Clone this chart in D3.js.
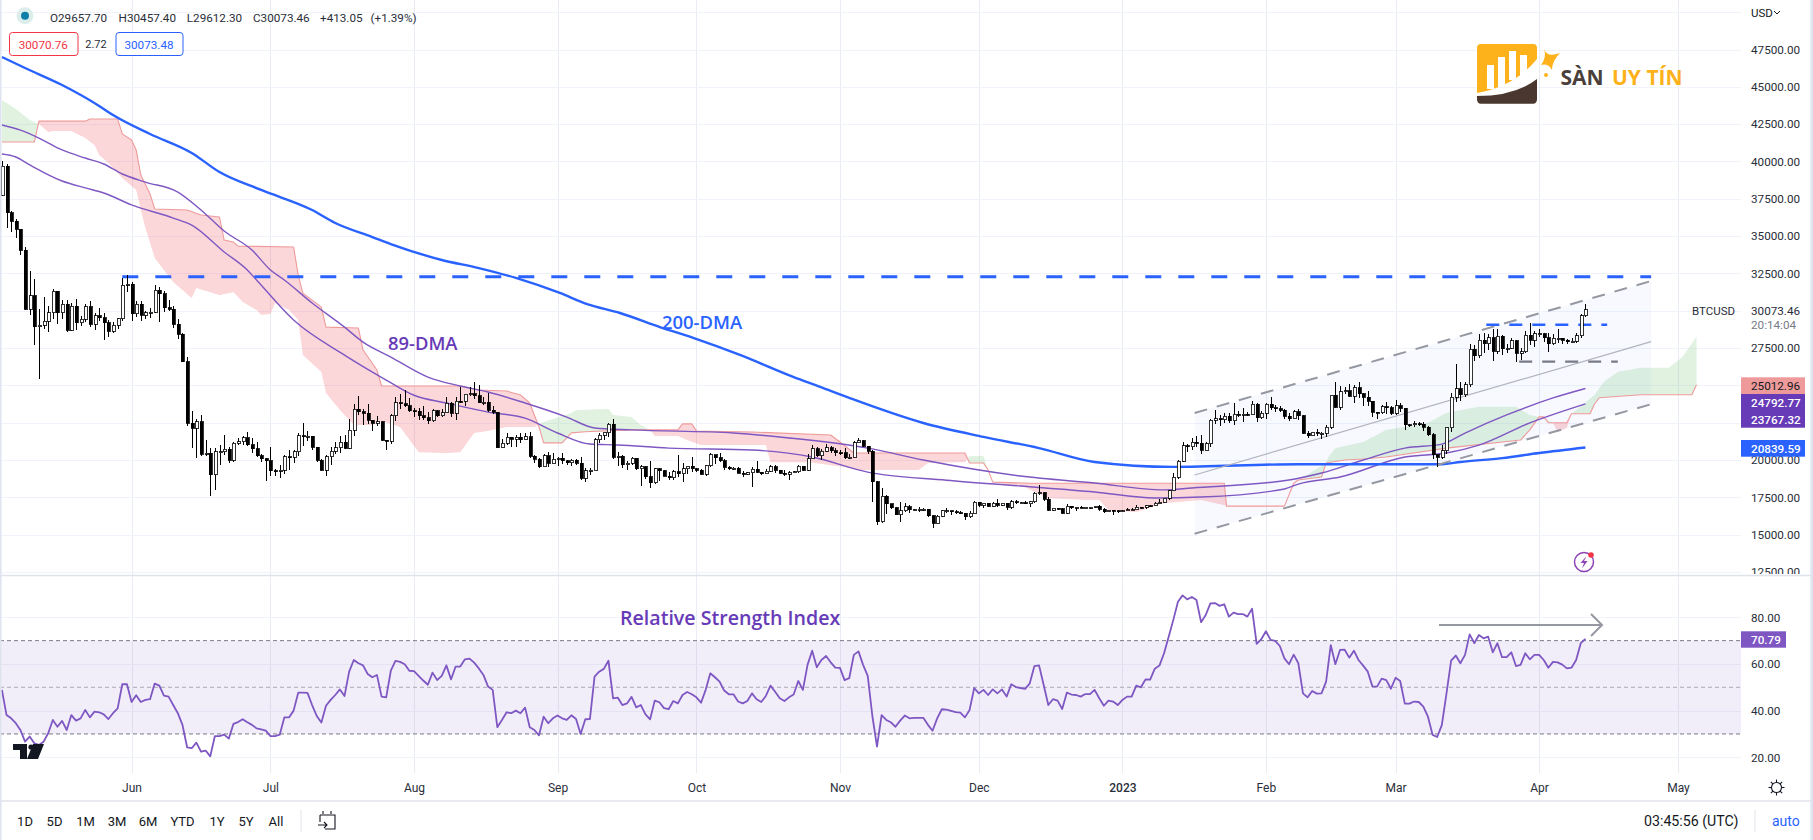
<!DOCTYPE html>
<html>
<head>
<meta charset="utf-8">
<script src="https://cdn.jsdelivr.net/npm/d3@7"></script>
<style>
  html, body { margin: 0; padding: 0; background: #fff; overflow: hidden; }
  svg { display: block; font-family: Roboto, "Liberation Sans", sans-serif; }
</style>
</head>
<body>
<div id="chart"></div>
<script>
// daily candles, BTCUSD, first one is 4 May 2022 and the last one 11 Apr 2023
const opens = [
37730,39690,36550,36010,35470,34040,30090,31010,28940,29030,
29280,29860,31300,29850,30420,28700,30310,29190,29430,30280,
29100,29650,29540,29190,28630,29020,29450,31720,31790,29800,
30450,29700,29860,29910,31370,31130,30200,30110,29080,28420,
26570,22480,22130,22570,20380,20470,19020,20560,20570,20720,
19970,21110,21230,21490,21040,20740,20280,20100,19960,19270,
19240,19300,20220,20190,20550,21640,21590,21590,20860,19970,
19330,20210,20580,20830,21190,20780,22000,23390,23220,23150,
22680,22450,22580,21310,21250,22950,23850,23770,23640,23300,
23270,22980,22820,22620,23310,22960,23170,23810,23150,23950,
23940,24400,24440,24300,23850,23870,23340,23200,20830,21140,
21520,21400,21530,21370,21560,20240,20040,19550,20280,19800,
20050,20130,19950,19830,20000,19800,18790,19290,19320,21360,
21650,21830,22400,20170,20240,19700,19800,20110,19420,19540,
18890,18490,19400,19290,18920,18800,19220,19080,19410,19590,
19420,19310,19060,19620,20340,20160,19960,19530,19420,19440,
19130,19060,19150,19370,19180,19070,19260,19550,19330,19120,
19040,19160,19200,19570,19330,20080,20770,20290,20600,20820,
20630,20490,20480,20150,20200,21150,21300,20920,20600,18540,
15880,17590,17070,16810,16330,16610,16880,16660,16680,16690,
16700,16280,15780,16230,16600,16600,16520,16460,16430,16210,
16440,17170,16970,17090,16890,17110,16970,17090,16840,17220,
17130,17130,17080,17210,17780,17810,17360,16630,16780,16740,
16440,16900,16820,16830,16790,16830,16840,16920,16700,16550,
16630,16600,16530,16610,16670,16670,16850,16830,16950,16940,
17120,17180,17440,17940,18850,19930,20960,20880,21190,21140,
20670,21080,22680,22780,22710,22920,22620,23060,23010,23080,
23030,23750,22830,23130,23730,23490,23430,23330,22930,22760,
23240,22960,21800,21630,21860,21780,21780,22200,24330,23530,
24570,24630,24280,24840,24450,24190,23940,23190,23160,23560,
23490,23140,23650,23470,22360,22350,22430,22410,22200,21700,
20370,20190,20630,22160,24200,24770,24370,25050,27420,26970,
28040,27800,28180,27300,28300,27470,27490,28000,27140,27270,
28350,28030,28470,28470,28200,27800,28170,28170,28030,27920,
27950,28330,29657.7];
const highs = [
40030,39850,36650,36130,35500,34240,32640,32150,30150,30950,
30300,31470,31300,30750,30700,30540,30770,29620,30480,30650,
29830,30200,29830,29380,29250,29530,32200,32400,31950,30650,
30680,29950,30180,31750,31560,31320,30700,30330,29430,28520,
26880,23300,22750,22990,21350,20780,20780,21000,21700,20880,
21200,21500,21580,21860,21500,21180,20400,20150,20870,19430,
19640,20360,20680,20660,21830,22500,21950,21600,20860,20040,
20360,20880,21200,21590,21690,22780,23780,24280,23430,23750,
22680,22980,22630,21350,23100,24200,24440,24670,24180,23500,
23470,23650,23230,23450,23350,23390,24250,23920,24230,24900,
24450,24890,25200,25050,24250,24470,23600,23200,21380,21790,
21520,21680,21820,21820,21880,20350,20140,20400,20570,20480,
20200,20440,20000,20040,20050,20170,19460,19450,21500,21780,
21840,22480,22780,20520,20320,19950,20180,20110,19680,19620,
19950,19490,19490,19310,19180,19300,20350,19770,19630,20170,
19470,19390,19680,20450,20360,20440,20050,19600,19520,19510,
19270,19210,19510,19930,19210,19420,19670,19690,19350,19340,
19250,19240,19690,19600,20400,21020,20860,20740,21080,20930,
20830,20690,20800,20390,21300,21470,21370,20950,20660,18590,
18150,17650,17080,16880,17180,17120,16990,16750,16850,16800,
16750,16290,16310,16680,16770,16610,16680,16600,16480,16600,
17250,17200,17100,17150,17200,17410,17120,17140,17300,17350,
17220,17270,17240,17850,18360,17830,17520,16800,16820,16800,
17040,16900,16860,16890,16860,16860,16930,16960,16780,16650,
16620,16640,16620,16770,16760,16990,16880,16990,16970,17170,
17400,17480,18000,19100,19980,21230,21050,21450,21620,21650,
21180,22730,23320,23050,23170,23150,23800,23290,23490,23190,
23940,23790,23300,23800,24240,23700,23590,23430,23140,23340,
23420,23000,21950,21900,22080,21880,22320,24370,25230,24980,
24870,25120,25050,25260,24460,24600,23900,23200,23680,23880,
23600,24000,23800,23480,22410,22600,22560,22570,22260,21800,
20360,21000,22170,24500,26400,25240,25200,27750,27730,28440,
28500,28470,28800,28780,28400,27800,28200,28020,27500,28630,
29170,28640,28800,28500,28480,28450,28750,28190,28100,28180,
28530,29770,30457.4];
const lows = [
37670,35560,35290,34850,33720,30030,29730,27700,25400,28760,
28600,29480,29100,29430,28600,28640,28730,28950,29240,28900,
28700,29300,28020,28230,28480,28800,29300,31230,29320,29600,
29300,29450,29500,29850,29230,29900,29950,28850,28100,26560,
22300,20820,20120,20250,20250,17600,18000,19650,20350,19800,
19900,21000,21000,20950,20500,20200,19860,18620,18960,18950,
18780,19050,19300,19800,20250,20950,21300,20650,19880,19250,
18900,19680,20380,20500,20750,20750,21600,23000,22350,22400,
21950,22280,21250,20700,21050,22600,23400,23550,23200,22850,
22700,22700,22430,22580,22870,22850,23150,22900,22700,23850,
23600,24320,24100,23800,23680,23200,23100,20800,20850,21000,
20900,20900,21150,21320,20150,19800,19500,19550,19550,19800,
19620,19750,19650,19600,19650,18680,18540,19000,19300,21150,
21350,21550,20050,19620,19500,19320,19700,19350,18250,18700,
18150,18400,18570,18900,18630,18680,18850,18500,19050,19200,
19180,19000,18950,19510,19750,19900,19350,19320,19320,19100,
18860,19020,18200,19100,19030,19050,19170,19100,19060,18930,
18650,19110,19100,19240,19250,20050,20210,20000,20570,20500,
20250,20340,20060,20050,20170,21150,20880,20400,17200,15620,
15750,16400,16750,16300,15850,16550,16420,16560,16550,16600,
16200,15480,15750,16170,16480,16350,16400,16400,15990,16130,
16430,16860,16790,16860,16880,16880,16910,16680,16730,17080,
17090,17070,16870,17090,17650,17280,16580,16590,16670,16400,
16400,16720,16600,16760,16790,16750,16800,16590,16470,16490,
16350,16480,16500,16560,16620,16650,16750,16690,16910,16910,
17100,17150,17320,17900,18720,19870,20550,20660,20860,20400,
20660,20870,22400,22300,22490,22450,22330,22860,22550,22950,
23000,22550,22720,22770,23380,23230,23250,22780,22630,22730,
22660,21720,21480,21620,21620,21380,21550,22050,23480,23350,
24450,24230,23850,24150,23600,23600,22900,22750,23070,23100,
23050,23020,23230,22020,22200,22200,22250,21950,21600,20100,
19550,20050,20400,21900,23900,23950,24200,24900,26650,26850,
27200,27350,26650,27120,27030,27200,27420,26550,26700,27150,
27700,27550,28250,27900,27260,27680,27850,27750,27790,27880,
27810,28170,29612.3];
const closes = [
39690,36550,36010,35470,34040,30090,31010,28940,29030,29280,
29860,31300,29850,30420,28700,30310,29190,29430,30280,29100,
29650,29540,29190,28630,29020,29450,31720,31790,29800,30450,
29700,29860,29910,31370,31130,30200,30110,29080,28420,26570,
22480,22130,22570,20380,20470,19020,20560,20570,20720,19970,
21110,21230,21490,21040,20740,20280,20100,19960,19270,19240,
19300,20220,20190,20550,21640,21590,21590,20860,19970,19330,
20210,20580,20830,21190,20780,22000,23390,23220,23150,22680,
22450,22580,21310,21250,22950,23850,23770,23640,23300,23270,
22980,22820,22620,23310,22960,23170,23810,23150,23950,23940,
24400,24440,24300,23850,23870,23340,23200,20830,21140,21520,
21400,21530,21370,21560,20240,20040,19550,20280,19800,20050,
20130,19950,19830,20000,19800,18790,19290,19320,21360,21650,
21830,22400,20170,20240,19700,19800,20110,19420,19540,18890,
18490,19400,19290,18920,18800,19220,19080,19410,19590,19420,
19310,19060,19620,20340,20160,19960,19530,19420,19440,19130,
19060,19150,19370,19180,19070,19260,19550,19330,19120,19040,
19160,19200,19570,19330,20080,20770,20290,20600,20820,20630,
20490,20480,20150,20200,21150,21300,20920,20600,18540,15880,
17590,17070,16810,16330,16610,16880,16660,16680,16690,16700,
16280,15780,16230,16600,16600,16520,16460,16430,16210,16440,
17170,16970,17090,16890,17110,16970,17090,16840,17220,17130,
17130,17080,17210,17780,17810,17360,16630,16780,16740,16440,
16900,16820,16830,16790,16830,16840,16920,16700,16550,16630,
16600,16530,16610,16670,16670,16850,16830,16950,16940,17120,
17180,17440,17940,18850,19930,20960,20880,21190,21140,20670,
21080,22680,22780,22710,22920,22620,23060,23010,23080,23030,
23750,22830,23130,23730,23490,23430,23330,22930,22760,23240,
22960,21800,21630,21860,21780,21780,22200,24330,23530,24570,
24630,24280,24840,24450,24190,23940,23190,23160,23560,23490,
23140,23650,23470,22360,22350,22430,22410,22200,21700,20370,
20190,20630,22160,24200,24770,24370,25050,27420,26970,28040,
27800,28180,27300,28300,27470,27490,28000,27140,27270,28350,
28030,28470,28470,28200,27800,28170,28170,28030,27920,27950,
28330,29657.7,30073.46];

// 200-DMA, sampled, day numbers count from the first candle
const dma200Days = [0,5,13,21,24,32,41,47,56,67,72,80,84,95,103,111,120.5,126.4,133.5,142.1,149.3,159.4,170.9,176.7,183,199,212,224,236,253,280,302,311,315,324,332,342];
const dma200 = [47000,46260,45120,43720,43110,41840,40570,39290,38090,36750,35880,34940,34470,33400,32860,32200,31190,30450,29850,28910,28180,27040,25570,24900,24160,22480,21550,20800,19870,19540,19720,19720,19720,19870,20130,20470,20840];

// 89-DMA band
const dmaHighDays = [0,4,8,13,18,22,26,31,38,43,48,54,58,61,67,74,78,84,92,99,105,113,122,128,136,158,170,187,199,220,236,251,257,278,285,294,303,311,316,325,335,342];
const dmaHigh = [42440,42100,41570,40770,40230,39830,39160,38620,37950,36750,35340,34070,32730,32060,30520,28900,27900,26900,25560,24960,24560,23820,22880,22150,22020,21810,21480,20800,20000,18930,18460,18000,18130,18660,19130,20000,20800,21070,21810,23020,24160,24793];
const dmaLowDays = [0,3,6,13,18,22,28,37,41,48,53,55,63,74,83,89,96,105,113,120,127,133,144,162,175,187,204,220,236,249,259,277,280,289,303,312,319,330,342];
const dmaLow = [40500,40300,39770,38690,38230,37890,37090,36210,35740,33940,32730,32060,29380,27030,25360,24340,23820,23210,22810,21810,21070,21010,20800,20670,20200,19190,18650,18260,17860,17460,17520,18060,18390,18860,20200,20470,21000,22490,23767];

// ichimoku cloud edges
const spanADays = [0,3,6,8,10,11,15,18,20,21,23,26,29,30,31,33,35,37,41,42,47,50,52,55,56,58,59,62,64,65,69,70,73,76,80,82,86,90,96,99,102,105,109,115,117,123,124,131,132,136,138,140,141,146,148,151,165,166,174,182,185,198,200,208,209,212,213,214,221,226,234,237,239,245,251,259,264,264.5,277,279,286,286.5,288,294,299,308,312,319,327,330,332,335,336,338,339,344,346,349,354,360,363,366];
const spanA = [44120,43520,42780,42510,41970,42040,42040,41570,41100,40430,39900,38890,38090,36750,35540,33530,32730,31920,30850,31520,31050,31250,30590,30050,29720,29790,30520,30050,29380,27030,25900,24490,23350,22340,22340,22610,22210,20530,20460,20530,21810,21950,22210,22210,22550,23150,23350,23420,23020,22880,22340,22020,21610,21610,21340,21000,21000,19860,19860,19530,19330,19330,19800,19860,20270,20270,19330,18520,18180,17440,17320,17320,16640,16510,17110,17320,16980,16910,16910,18450,19800,20200,20800,21210,22020,22490,23170,23570,23570,23020,22890,22490,21880,22150,23100,24370,25240,25910,26180,26180,26920,28260];
const spanBDays = [0,7,8,18,19,25,26,28,29,30,32,33,40,43,47,48,50,51,63,64,65,69,70,77,78,81,82,99,103,109,112,114,115,116,117,121,123,126,136,146,147,149,150,162,179,181,184,208,209,212,213,214,222,264,264.5,277,279,280,285,286,290,294,299,312,328,330,332,333,334,338,339,343,344,345,354,365,366];
const spanB = [41300,41300,42700,42700,42840,42840,41850,41440,40770,39090,37820,36820,36750,36410,36280,34740,34600,34330,34270,32390,31180,30240,28900,28840,27370,26030,24960,24960,24690,24620,24360,23820,23020,22220,21150,21150,21820,21890,22020,22020,22420,22420,21950,21880,21680,21210,20470,20470,19800,19800,19330,18520,18450,18450,16910,16910,18450,18660,18860,19800,20000,20070,20200,20800,21340,22020,22890,22890,22500,22500,23100,23100,23770,24170,24370,24370,25040];

// RSI, one value per candle
const rsi = [
48.9,38.1,36.7,34.6,31.7,26.7,28.9,26,25.3,26.7,
30.3,36,33.1,35.6,31.7,38.1,35.7,36.7,40.3,37.1,
39.6,39.3,38.4,36.4,38.9,41,51.3,51.4,43.7,46.6,
43.7,44.6,44.9,51.6,50.7,46.4,46,42.4,38.9,33.9,
24.3,23.9,26.3,22.4,22.9,20.4,29.1,29.1,29.7,28,
34.3,35.1,36.3,35,33.9,32.4,32,31.4,29.1,29.1,
29.7,37.1,37.1,40,47.7,47.7,47.6,42.4,37.7,34.9,
42.1,44.6,46.7,49.1,46.3,56.7,61.7,60.3,59.4,55.7,
54.3,55.3,46,45.7,57.1,61.3,60.9,59.9,57.1,56.9,
54.9,52.9,51.1,56.3,53.1,54.9,59.4,53.4,58.9,58.9,
62,62.3,60.6,58.1,55.3,50.3,48.9,32.9,36,39.3,
38.9,40,38.9,41.3,32.9,31.7,29.4,37.4,34.6,36.7,
37.9,36.7,36,38,36.4,30,36.3,36.4,54.6,56.7,
57.9,61.4,45.3,45.6,42.4,43.1,45.9,41.4,42.4,38.4,
36.3,44.3,43.6,41.1,40.6,44.1,43.1,46.7,48,47,
45.7,43.4,48.9,56,54.3,52.4,48.6,47,47,43.9,
43.1,44.1,47.4,44.9,43.7,46.3,50.7,48.1,45.3,44.1,
45.7,46.9,52.7,48.9,59.6,65.7,58.6,61.7,63.4,60.7,
58.4,58.3,53.1,53.9,63.9,65.4,59.6,54.9,37.7,24.6,
38.1,36,35,33.1,35.7,37.9,36.7,36.9,36.9,36.9,
33.9,31.4,36.7,40.6,40.4,39.9,39.4,39.1,37.1,40.3,
49.7,47.4,48.9,46.7,49.1,47.4,49.1,46,51.3,50.1,
49.7,49.3,51.7,59.1,59.4,51,42.4,44.9,44.3,40.7,
47.7,46.9,46.7,46,47.1,47.1,48.9,45.3,42.1,44.3,
43.9,42.4,44.6,46,46,50.7,50,53.4,53.3,58,
59.3,64.6,71.7,78.9,86.7,89.4,87.7,88.7,87.4,77.9,
81,86,86.1,84.9,85.6,80.3,82,81.4,81.4,80.3,
83.7,68.6,70.6,74,70.3,69.9,67.7,62.4,59.9,64,
60.3,47.4,45.7,48.4,47.3,47.4,52.4,68.1,59.9,66,
66.1,62.7,65.7,61.7,59.3,56.7,50.4,50.3,53.7,53.1,
49.4,54.1,52.7,43,43,43.9,43.7,41.7,37.4,29.6,
28.7,33.9,47.4,61.4,63.6,60.3,63.9,72.7,68.9,72.4,
71,71.7,65,68.9,62.9,62.9,65,59.1,59.6,64.6,
62,63.9,63.9,61.7,58.4,60.9,60.7,59.7,58.1,58.4,
61.7,68.9,70.79];

const monthDays = [28,58,89,120,150,181,211,242,273,301,332,362];
const monthLabels = ['Jun','Jul','Aug','Sep','Oct','Nov','Dec','2023','Feb','Mar','Apr','May'];
const priceTicks = [12500,15000,17500,20000,22500,25000,27500,32500,35000,37500,40000,42500,45000,47500];
const priceGrid = [12500,15000,17500,20000,22500,25000,27500,30000,32500,35000,37500,40000,42500,45000,47500,50000];
const rsiTicks = [20,40,60,80];
const rangeButtons = ['1D','5D','1M','3M','6M','YTD','1Y','5Y','All'];

// drawings on the chart, [day, price]
const channelUpper = [[257.6,23152],[356.2,31990]];
const channelMiddle = [[257.6,19000],[356.2,27930]];
const channelLower = [[257.6,15065],[356.2,23740]];
const resistanceLine = [[26,32280],[356.2,32280]];
const rangeTop = [[320.6,29066],[346.7,29066]];
const rangeBottom = [[327.7,26590],[349,26590]];

const width = 1813, height = 840;
const axisX = 1741, paneBottom = 575, plotBottom = 772.7, timeBottom = 801;

const svg = d3.select('#chart').append('svg').attr('width', width).attr('height', height);

const x = d3.scaleLinear().domain([0, 362]).range([1.9, 1678]);
const y = d3.scaleLinear().domain([12500, 47500]).range([572, 49.5]);
const yRsi = d3.scaleLinear().domain([20, 80]).range([757.3, 617.3]);

svg.append('rect').attr('width', width).attr('height', height).attr('fill', '#fff');

svg.append('defs').append('clipPath').attr('id', 'pricePane')
   .append('rect').attr('width', axisX).attr('height', paneBottom);

// grid
const grid = svg.append('g').attr('stroke', '#f0f3fa').attr('stroke-width', 1).attr('shape-rendering', 'crispEdges');
grid.selectAll('.v').data(monthDays).enter().append('line')
    .attr('x1', d => Math.round(x(d)) + 0.5).attr('x2', d => Math.round(x(d)) + 0.5)
    .attr('y1', 0).attr('y2', plotBottom).attr('stroke', '#e9ecf3');
grid.selectAll('.h').data(priceGrid).enter().append('line')
    .attr('x1', 0).attr('x2', axisX)
    .attr('y1', d => Math.round(y(d)) + 0.5).attr('y2', d => Math.round(y(d)) + 0.5);
grid.selectAll('.r').data(rsiTicks).enter().append('line')
    .attr('x1', 0).attr('x2', axisX)
    .attr('y1', d => Math.round(yRsi(d)) + 0.5).attr('y2', d => Math.round(yRsi(d)) + 0.5);

const pane = svg.append('g').attr('clip-path', 'url(#pricePane)');

// regression channel fill
pane.append('path')
    .attr('d', d3.line().x(d => x(d[0])).y(d => y(d[1]))([channelUpper[0], channelUpper[1], channelLower[1], channelLower[0]]) + 'Z')
    .attr('fill', '#2962ff').attr('fill-opacity', 0.04);

// cloud
const spanAAt = d3.scaleLinear().domain(spanADays).range(spanA);
const spanBAt = d3.scaleLinear().domain(spanBDays).range(spanB);
const cloudGrid = d3.range(0, 366.05, 0.1);
function cloud(defined) {
  return d3.area().x(d => x(d)).y0(d => y(spanAAt(d))).y1(d => y(spanBAt(d))).defined(defined)(cloudGrid);
}
pane.append('path').attr('d', cloud(d => spanAAt(d) >= spanBAt(d))).attr('fill', '#4caf50').attr('fill-opacity', 0.17);
pane.append('path').attr('d', cloud(d => spanAAt(d) <= spanBAt(d))).attr('fill', '#f23645').attr('fill-opacity', 0.2);

function seriesLine(days, values, color, w, curve) {
  pane.append('path')
      .attr('d', d3.line().x((d, i) => x(days[i])).y(d => y(d)).curve(curve || d3.curveLinear)(values))
      .attr('fill', 'none').attr('stroke', color).attr('stroke-width', w)
      .attr('stroke-linejoin', 'round');
}
seriesLine(spanBDays, spanB, '#ef9a9a', 1.1);
seriesLine(dmaHighDays, dmaHigh, '#7e57c2', 1.4, d3.curveMonotoneX);
seriesLine(dmaLowDays, dmaLow, '#7e57c2', 1.4, d3.curveMonotoneX);
seriesLine(dma200Days, dma200, '#2962ff', 2.4, d3.curveMonotoneX);

function drawing(pts, color, w, dash) {
  const sel = pane.append('line')
      .attr('x1', x(pts[0][0])).attr('y1', y(pts[0][1]))
      .attr('x2', x(pts[1][0])).attr('y2', y(pts[1][1]))
      .attr('stroke', color).attr('stroke-width', w);
  if (dash) sel.attr('stroke-dasharray', dash);
}
drawing(channelUpper, '#9598a1', 2, '13,10');
drawing(channelLower, '#9598a1', 2, '13,10');
drawing(channelMiddle, '#b2b5be', 1.2);
drawing(resistanceLine, '#2962ff', 3, '16,17');
drawing(rangeTop, '#2962ff', 2.4, '13,10');
drawing(rangeBottom, '#787b86', 2.4, '13,10');

// candles
const candles = pane.append('g').attr('shape-rendering', 'crispEdges');
candles.selectAll('.wick').data(closes).enter().append('line')
    .attr('x1', (d, i) => Math.round(x(i)) + 0.5).attr('x2', (d, i) => Math.round(x(i)) + 0.5)
    .attr('y1', (d, i) => y(highs[i])).attr('y2', (d, i) => y(lows[i]))
    .attr('stroke', '#000');
candles.selectAll('.body').data(closes).enter().append('rect')
    .attr('x', (d, i) => Math.round(x(i)) - 1)
    .attr('y', (d, i) => y(Math.max(opens[i], d)))
    .attr('width', 3)
    .attr('height', (d, i) => Math.max(1, Math.abs(y(opens[i]) - y(d))))
    .attr('fill', (d, i) => d >= opens[i] ? '#fff' : '#000')
    .attr('stroke', '#000').attr('stroke-width', 0.8);

// chart captions
function label(txt, px, py, color, size, weight, anchor) {
  return svg.append('text').attr('x', px).attr('y', py).attr('dy', '.35em')
      .attr('fill', color).attr('font-size', size).attr('font-weight', weight || 400)
      .attr('text-anchor', anchor || 'start').text(txt);
}
label('200-DMA', 662, 323, '#2962ff', 18.4, 600).attr('font-family', '"Open Sans"');
label('89-DMA', 388, 344, '#673ab7', 18.4, 600).attr('font-family', '"Open Sans"');
label('Relative Strength Index', 620, 618, '#673ab7', 19.6, 600).attr('font-family', '"Open Sans"');

// RSI pane
svg.append('rect').attr('x', 0).attr('width', axisX)
   .attr('y', yRsi(70)).attr('height', yRsi(30) - yRsi(70))
   .attr('fill', '#7e57c2').attr('fill-opacity', 0.1);
[[70, '#787b86'], [50, '#a8abb3'], [30, '#787b86']].forEach(b => {
  svg.append('line').attr('x1', 0).attr('x2', axisX).attr('y1', yRsi(b[0])).attr('y2', yRsi(b[0]))
     .attr('stroke', b[1]).attr('stroke-width', 1).attr('stroke-dasharray', '4,3');
});
svg.append('path')
   .attr('d', d3.line().x((d, i) => x(i)).y(d => yRsi(d))(rsi))
   .attr('fill', 'none').attr('stroke', '#7e57c2').attr('stroke-width', 1.8).attr('stroke-linejoin', 'round');
svg.append('path').attr('d', 'M1439,625H1601M1591,614L1602,625L1591,636')
   .attr('fill', 'none').attr('stroke', '#9598a1').attr('stroke-width', 2);

// TradingView mark
svg.append('path').attr('d', 'M13,744H27V759H20V750H13ZM33,744H44L38,759H27Z').attr('fill', '#131722');
svg.append('circle').attr('cx', 31).attr('cy', 747).attr('r', 2.6).attr('fill', '#131722');

const priceAxis = svg.append('g').attr('transform', `translate(${axisX},0)`)
    .call(d3.axisRight(y).tickValues(priceTicks).tickFormat(d3.format('.2f')).tickSize(0).tickPadding(10));
priceAxis.select('.domain').remove();
priceAxis.selectAll('text').attr('font-family', 'Roboto').attr('font-size', 11.7).attr('fill', '#2a2e39');

svg.append('rect').attr('x', axisX).attr('y', paneBottom - 1).attr('width', width - axisX).attr('height', 6).attr('fill', '#fff');
svg.append('line').attr('x1', 0).attr('x2', width).attr('y1', paneBottom + 0.5).attr('y2', paneBottom + 0.5)
   .attr('stroke', '#e0e3eb').attr('stroke-width', 1.5);

const rsiAxis = svg.append('g').attr('transform', `translate(${axisX},0)`)
    .call(d3.axisRight(yRsi).tickValues(rsiTicks).tickFormat(d3.format('.2f')).tickSize(0).tickPadding(10));
rsiAxis.select('.domain').remove();
rsiAxis.selectAll('text').attr('font-family', 'Roboto').attr('font-size', 11.7).attr('fill', '#2a2e39');

const timeAxis = svg.append('g').attr('transform', `translate(0,${plotBottom})`)
    .call(d3.axisBottom(x).tickValues(monthDays).tickFormat((d, i) => monthLabels[i]).tickSize(0).tickPadding(11));
timeAxis.select('.domain').remove();
timeAxis.selectAll('text').attr('font-family', 'Roboto').attr('font-size', 12).attr('fill', '#2a2e39')
    .attr('font-weight', d => d === 242 ? 500 : 400);

svg.append('line').attr('x1', 0).attr('x2', width).attr('y1', timeBottom).attr('y2', timeBottom)
   .attr('stroke', '#e0e3eb').attr('stroke-width', 1.5);

// price tags
function tag(top, bottom, fill, right) {
  svg.append('rect').attr('x', axisX).attr('y', top).attr('width', right - axisX).attr('height', bottom - top).attr('fill', fill);
}
tag(377.3, 394, '#ef9a9a', 1805);
tag(394, 427.7, '#673ab7', 1805);
tag(440, 456.7, '#2962ff', 1805);
label('25012.96', 1751, 385.5, '#131722', 11.7);
label('24792.77', 1751, 402.5, '#fff', 11.7, 500);
label('23767.32', 1751, 419.5, '#fff', 11.7, 500);
label('20839.59', 1751, 448.5, '#fff', 11.7, 500);
label('BTCUSD', 1692, 311, '#2a2e39', 11.5);
label('30073.46', 1751, 311, '#2a2e39', 11.7);
label('20:14:04', 1751, 325, '#787b86', 11.7);
label('USD', 1751, 12.5, '#131722', 11.5);
svg.append('path').attr('d', 'M1774,11L1777,14L1780,11').attr('fill', 'none').attr('stroke', '#131722').attr('stroke-width', 1);
tag(631.3, 647.7, '#7e57c2', 1786);
label('70.79', 1751, 640, '#fff', 11.7, 500);

// header
svg.append('circle').attr('cx', 25).attr('cy', 15.7).attr('r', 8.5).attr('fill', '#dceeec');
svg.append('circle').attr('cx', 25).attr('cy', 15.7).attr('r', 4).attr('fill', '#0f7ea8');
[['O29657.70', 50], ['H30457.40', 118.6], ['L29612.30', 186.8], ['C30073.46', 253], ['+413.05', 320], ['(+1.39%)', 370.5]]
  .forEach(t => label(t[0], t[1], 17.7, '#2a2e39', 11.7));
function priceBox(left, right, color, txt) {
  svg.append('rect').attr('x', left + 0.5).attr('y', 32.5).attr('width', right - left).attr('height', 23).attr('rx', 3)
     .attr('fill', '#fff').attr('stroke', color);
  label(txt, (left + right) / 2, 44.5, color, 11.7, 400, 'middle');
}
priceBox(9, 77.5, '#f23645', '30070.76');
label('2.72', 96, 44.5, '#2a2e39', 11, 400, 'middle');
priceBox(115.5, 182.5, '#2962ff', '30073.48');

// toolbar
const buttonX = [25, 54.5, 85.5, 117, 148, 182.5, 217, 246, 276];
rangeButtons.forEach((b, i) => label(b, buttonX[i], 821, '#131722', 13, 400, 'middle'));
svg.append('line').attr('x1', 301).attr('x2', 301).attr('y1', 810).attr('y2', 832).attr('stroke', '#e0e3eb');
svg.append('path').attr('d', 'M320,815H335V829H325M320,815V822M323,811V814M331,811V814M318,825H327M324,822L327,825L324,828')
   .attr('fill', 'none').attr('stroke', '#131722').attr('stroke-width', 1.1);
label('03:45:56 (UTC)', 1644, 821, '#131722', 14.2);
svg.append('line').attr('x1', 1755).attr('x2', 1755).attr('y1', 810).attr('y2', 832).attr('stroke', '#e0e3eb');
label('auto', 1772, 821, '#2962ff', 14);

// settings gear
const gear = svg.append('g').attr('transform', 'translate(1776.5,787.5)').attr('fill', 'none').attr('stroke', '#131722').attr('stroke-width', 1.1);
gear.append('circle').attr('r', 5);
d3.range(0, 360, 45).forEach(a => {
  gear.append('line').attr('y1', -5).attr('y2', -8).attr('transform', `rotate(${a})`);
});

// snapshot bolt icon
const bolt = svg.append('g').attr('transform', 'translate(1584,562)');
bolt.append('circle').attr('r', 9.5).attr('fill', '#fff').attr('stroke', '#8e44b5').attr('stroke-width', 1.5);
bolt.append('path').attr('d', 'M2.5,-6L-3.5,1H0L-2,6.5L3.5,-1H0Z').attr('fill', '#8e44b5');
bolt.append('circle').attr('cx', 7).attr('cy', -7).attr('r', 2.8).attr('fill', '#f23645');

// watermark logo
const logo = svg.append('g');
logo.append('path').attr('d', 'M1537,79V99Q1537,103.7 1533,103.7H1481Q1477,103.7 1477,99V96Q1515,96 1537,79Z').attr('fill', '#4a372f');
logo.append('path').attr('d', 'M1481,44H1533Q1537,44 1537,48V59Q1515,86 1477,93V48Q1477,44 1481,44Z').attr('fill', '#fdb11a');
[[1487, 65, 89], [1498, 57, 87], [1509, 51, 80], [1520, 55, 75]].forEach(b => {
  logo.append('rect').attr('x', b[0]).attr('y', b[1]).attr('width', 7).attr('height', b[2] - b[1]).attr('fill', '#fff');
});
logo.append('path').attr('d', 'M1544,49Q1547,58 1560,53Q1552,61 1552,70Q1548,63 1541,65Q1547,57 1544,49Z').attr('fill', '#fdb11a');
logo.append('circle').attr('cx', 1546).attr('cy', 75).attr('r', 2).attr('fill', '#fdb11a');
label('SÀN', 1560.5, 77.5, '#4a3f3a', 21, 700).attr('font-family', '"Open Sans"');
label('UY TÍN', 1612, 77.5, '#fdb11a', 21, 700).attr('font-family', '"Open Sans"');

// window edges
svg.append('rect').attr('width', 1.5).attr('height', height).attr('fill', '#dfe3ef');
svg.append('rect').attr('x', 1810.5).attr('width', 2.5).attr('height', height).attr('fill', '#dfe3ef');
</script>
</body>
</html>
